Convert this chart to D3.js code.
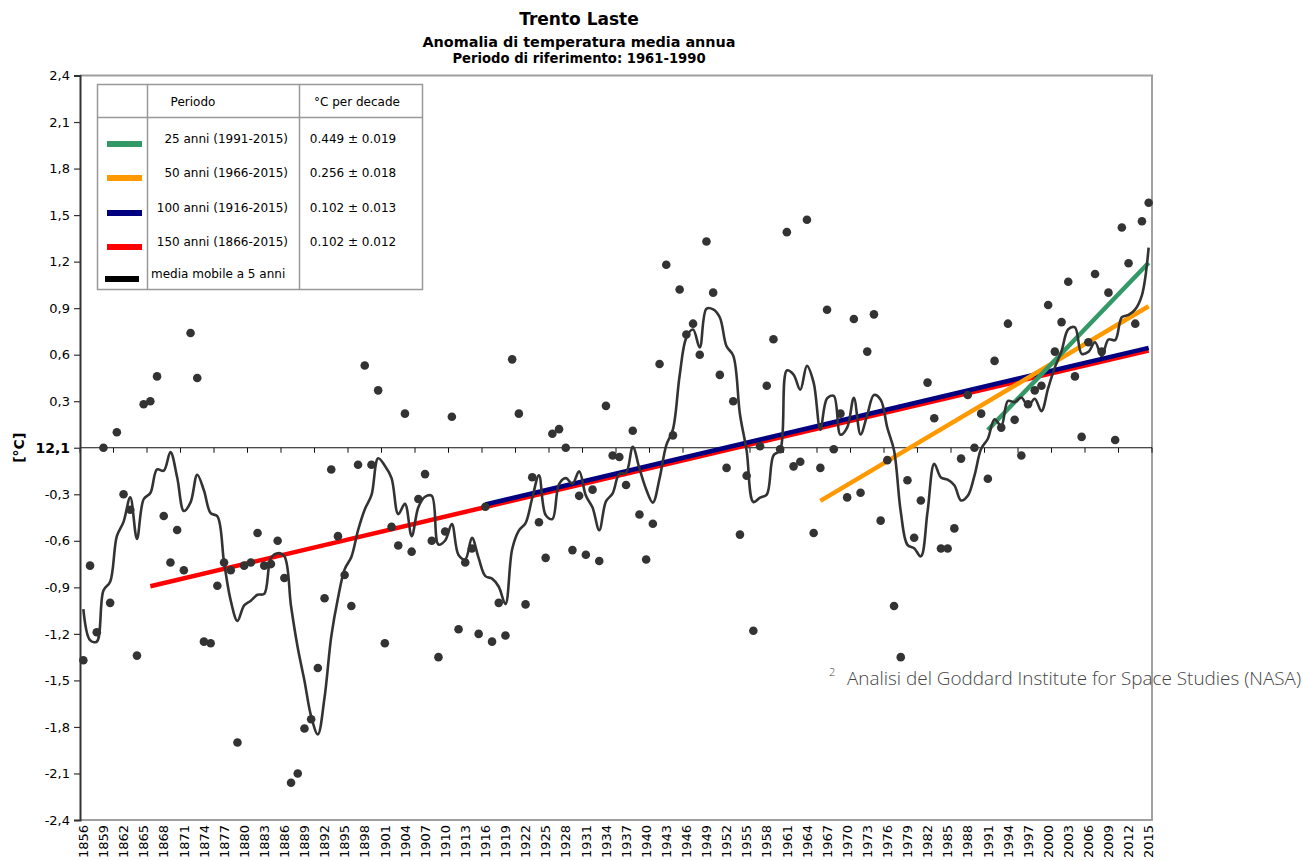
<!DOCTYPE html>
<html>
<head>
<meta charset="utf-8">
<script src="https://cdn.jsdelivr.net/npm/d3@7"></script>
<style>
  html, body { margin: 0; padding: 0; background: #fff; }
  svg { display: block; font-family: "DejaVu Sans", Verdana, sans-serif; }
</style>
</head>
<body>
<svg id="chart" width="1303" height="861"></svg>
<script>
// ---- data -------------------------------------------------------------
const years = d3.range(1856, 2016);

// annual mean temperature anomaly (°C) vs 1961-1990 mean (12,1 °C)
const anomalies = [
  -1.37, -0.76, -1.19,  0.00, -1.00,  0.10, -0.30, -0.40, -1.34,  0.28,  // 1856-1865
   0.30,  0.46, -0.44, -0.74, -0.53, -0.79,  0.74,  0.45, -1.25, -1.26,  // 1866-1875
  -0.89, -0.74, -0.79, -1.90, -0.76, -0.74, -0.55, -0.76, -0.75, -0.60,  // 1876-1885
  -0.84, -2.16, -2.10, -1.81, -1.75, -1.42, -0.97, -0.14, -0.57, -0.82,  // 1886-1895
  -1.02, -0.11,  0.53, -0.11,  0.37, -1.26, -0.51, -0.63,  0.22, -0.67,  // 1896-1905
  -0.33, -0.17, -0.60, -1.35, -0.54,  0.20, -1.17, -0.74, -0.65, -1.20,  // 1906-1915
  -0.38, -1.25, -1.00, -1.21,  0.57,  0.22, -1.01, -0.19, -0.48, -0.71,  // 1916-1925
   0.09,  0.12,  0.00, -0.66, -0.31, -0.69, -0.27, -0.73,  0.27, -0.05,  // 1926-1935
  -0.06, -0.24,  0.11, -0.43, -0.72, -0.49,  0.54,  1.18,  0.08,  1.02,  // 1936-1945
   0.73,  0.80,  0.60,  1.33,  1.00,  0.47, -0.13,  0.30, -0.56, -0.18,  // 1946-1955
  -1.18,  0.01,  0.40,  0.70, -0.01,  1.39, -0.12, -0.09,  1.47, -0.55,  // 1956-1965
  -0.13,  0.89, -0.01,  0.22, -0.32,  0.83, -0.29,  0.62,  0.86, -0.47,  // 1966-1975
  -0.08, -1.02, -1.35, -0.21, -0.58, -0.34,  0.42,  0.19, -0.65, -0.65,  // 1976-1985
  -0.52, -0.07,  0.34,  0.00,  0.22, -0.20,  0.56,  0.13,  0.80,  0.18,  // 1986-1995
  -0.05,  0.28,  0.37,  0.40,  0.92,  0.62,  0.81,  1.07,  0.46,  0.07,  // 1996-2005
   0.68,  1.12,  0.62,  1.00,  0.05,  1.42,  1.19,  0.80,  1.46,  1.58   // 2006-2015
];

// 5-year running means for 1856-1859 (their windows reach back before 1856)
const runningMeanLead = [-1.04, -1.24, -1.25, -0.92];
const runningWindow = 5;

// linear trends: period label, first year, slope (°C per decade), error
const trendLabels = ["25 anni (1991-2015)", "50 anni (1966-2015)", "100 anni (1916-2015)", "150 anni (1866-2015)"];
const trendFrom   = [1991, 1966, 1916, 1866];
const trendSlope  = [0.449, 0.256, 0.102, 0.102];
const trendError  = [0.019, 0.018, 0.013, 0.012];

const yTicks = [2.4, 2.1, 1.8, 1.5, 1.2, 0.9, 0.6, 0.3, 0, -0.3, -0.6, -0.9, -1.2, -1.5, -1.8, -2.1, -2.4];
const baselineLabel = "12,1";
const labelEvery = 3;   // year labels
const tickEvery = 5;    // tick marks on the zero line

// ---- styles -----------------------------------------------------------
const trendColors = ["#339966", "#ff9900", "#000080", "#ff0000"];
const ink = "#333333";
const frameGrey = "#a0a0a0";

// ---- scales -----------------------------------------------------------
const svg = d3.select("#chart");
const plot = { left: 80, right: 1152, top: 75.5, bottom: 820 };

const x = d3.scaleBand().domain(years).range([plot.left, plot.right]).padding(0);
const xc = yr => x(yr) + x.bandwidth() / 2;
const y = d3.scaleLinear().domain([-2.4, 2.4]).range([plot.bottom, plot.top]);

const series = years.map((yr, i) => ({ year: yr, value: anomalies[i] }));

// running mean series
const running = series.map((d, i) => {
  if (i < runningWindow - 1) return { year: d.year, value: runningMeanLead[i] };
  return { year: d.year, value: d3.mean(anomalies.slice(i - runningWindow + 1, i + 1)) };
});

// ---- frame ------------------------------------------------------------
svg.append("rect").attr("width", 1303).attr("height", 861).attr("fill", "#fff");

svg.append("path")
  .attr("d", `M${plot.left},${plot.top}H${plot.right}V${plot.bottom}H${plot.left}`)
  .attr("fill", "none").attr("stroke", frameGrey).attr("stroke-width", 2);

// zero line with tick marks
const zero = svg.append("g");
zero.append("line")
  .attr("x1", plot.left).attr("x2", plot.right)
  .attr("y1", y(0)).attr("y2", y(0))
  .attr("stroke", "#111").attr("stroke-width", 1.2);
const tickXs = years.filter((yr, i) => i % tickEvery === 0).map(yr => x(yr)).concat([plot.right]);
zero.selectAll("line.t").data(tickXs).join("line").attr("class", "t")
  .attr("x1", d => d).attr("x2", d => d)
  .attr("y1", y(0)).attr("y2", y(0) + 5)
  .attr("stroke", "#111").attr("stroke-width", 1);

// ---- trend lines (drawn longest period first) ------------------------
const trendOrder = [3, 2, 1, 0];
trendOrder.forEach(k => {
  const pts = series.filter(d => d.year >= trendFrom[k]);
  const mx = d3.mean(pts, d => d.year);
  const my = d3.mean(pts, d => d.value);
  const perYear = trendSlope[k] / 10;
  const ends = [pts[0].year, pts[pts.length - 1].year].map(yr => ({ year: yr, value: my + perYear * (yr - mx) }));
  svg.append("path")
    .datum(ends)
    .attr("d", d3.line().x(d => xc(d.year)).y(d => y(d.value)))
    .attr("fill", "none").attr("stroke", trendColors[k]).attr("stroke-width", 4.5);
});

// ---- running mean -----------------------------------------------------
svg.append("path")
  .datum(running)
  .attr("d", d3.line().curve(d3.curveCatmullRom.alpha(0.5)).x(d => xc(d.year)).y(d => y(d.value)))
  .attr("fill", "none").attr("stroke", ink).attr("stroke-width", 2.6)
  .attr("stroke-linejoin", "round");

// ---- annual points ----------------------------------------------------
svg.append("g").selectAll("circle").data(series).join("circle")
  .attr("cx", d => xc(d.year)).attr("cy", d => y(d.value)).attr("r", 4.3)
  .attr("fill", ink);

// ---- y axis -----------------------------------------------------------
const yAxis = svg.append("g")
  .attr("transform", `translate(${plot.left},0)`)
  .call(d3.axisLeft(y).tickValues(yTicks).tickSize(6).tickPadding(4)
    .tickFormat(v => v === 0 ? baselineLabel : d3.format(".1f")(v).replace(".", ",").replace("−", "-")));
yAxis.select(".domain").attr("stroke", ink).attr("stroke-width", 2);
yAxis.selectAll(".tick line").attr("stroke", ink).attr("stroke-width", 1.2);
yAxis.selectAll(".tick text")
  .attr("fill", "#000").attr("font-size", 13)
  .attr("font-family", "DejaVu Sans, Verdana, sans-serif")
  .filter(v => v === 0).attr("font-weight", "bold").attr("font-size", 14);

svg.append("text")
  .attr("transform", `translate(24,${y(0)}) rotate(-90)`)
  .attr("text-anchor", "middle")
  .attr("font-size", 14).attr("font-weight", "bold")
  .text("[°C]");

// ---- year labels ------------------------------------------------------
svg.append("g").selectAll("text")
  .data(years.filter((yr, i) => i % labelEvery === 0))
  .join("text")
  .attr("transform", d => `translate(${xc(d)},${plot.bottom + 5}) rotate(-90)`)
  .attr("text-anchor", "end").attr("dy", "0.36em")
  .attr("font-size", 13).attr("fill", "#000")
  .text(d => d);

// ---- titles -----------------------------------------------------------
const titles = [
  { text: "Trento Laste", size: 17, y: 25 },
  { text: "Anomalia di temperatura media annua", size: 14.4, y: 47 },
  { text: "Periodo di riferimento: 1961-1990", size: 13.2, y: 63 }
];
svg.append("g").selectAll("text").data(titles).join("text")
  .attr("x", 579).attr("y", d => d.y)
  .attr("text-anchor", "middle").attr("font-weight", "bold")
  .attr("font-size", d => d.size).text(d => d.text);

// ---- legend table -----------------------------------------------------
const lg = svg.append("g");
const box = { x0: 97.5, x1: 422.5, y0: 84.5, y1: 289.5, c1: 147.5, c2: 299.5, h: 117.5 };
lg.append("rect").attr("x", box.x0).attr("y", box.y0)
  .attr("width", box.x1 - box.x0).attr("height", box.y1 - box.y0)
  .attr("fill", "#fff").attr("stroke", "#999").attr("stroke-width", 1.5);
[box.c1, box.c2].forEach(cx => lg.append("line")
  .attr("x1", cx).attr("x2", cx).attr("y1", box.y0).attr("y2", box.y1)
  .attr("stroke", "#999").attr("stroke-width", 1.5));
lg.append("line").attr("x1", box.x0).attr("x2", box.x1).attr("y1", box.h).attr("y2", box.h)
  .attr("stroke", "#999").attr("stroke-width", 1.5);

lg.append("text").attr("x", 193).attr("y", 106).attr("text-anchor", "middle")
  .attr("font-size", 12).text("Periodo");
lg.append("text").attr("x", 357).attr("y", 106).attr("text-anchor", "middle")
  .attr("font-size", 12).text("°C per decade");

const rowY = [144, 178, 213, 247];
trendLabels.forEach((lab, k) => {
  lg.append("line").attr("x1", 107).attr("x2", 142).attr("y1", rowY[k]).attr("y2", rowY[k])
    .attr("stroke", trendColors[k]).attr("stroke-width", 6);
  lg.append("text").attr("x", 288).attr("y", rowY[k] - 1).attr("text-anchor", "end")
    .attr("font-size", 12).text(lab);
  lg.append("text").attr("x", 353).attr("y", rowY[k] - 1).attr("text-anchor", "middle")
    .attr("font-size", 12).text(`${trendSlope[k].toFixed(3)} ± ${trendError[k].toFixed(3)}`);
});
lg.append("line").attr("x1", 105).attr("x2", 139).attr("y1", 279).attr("y2", 279)
  .attr("stroke", "#000").attr("stroke-width", 6);
lg.append("text").attr("x", 151).attr("y", 278).attr("font-size", 12)
  .text("media mobile a 5 anni");

// ---- source note ------------------------------------------------------
const note = svg.append("text").attr("y", 685)
  .attr("font-family", "'Open Sans', sans-serif").attr("font-weight", 300)
  .attr("fill", "#444");
note.append("tspan").attr("x", 829).attr("dy", -9).attr("font-size", 11).text("2");
note.append("tspan").attr("x", 847).attr("dy", 9).attr("font-size", 18.9)
  .text("Analisi del Goddard Institute for Space Studies (NASA)");
</script>
</body>
</html>
